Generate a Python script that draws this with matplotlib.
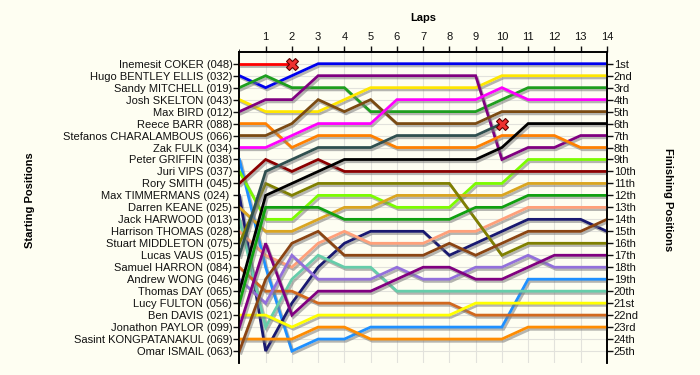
import matplotlib

matplotlib.use("Agg")

import matplotlib.pyplot as plt
import matplotlib.patheffects as pe

laps = list(range(0, 15))

drivers = [
    "Inemesit COKER (048)", "Hugo BENTLEY ELLIS (032)", "Sandy MITCHELL (019)",
    "Josh SKELTON (043)", "Max BIRD (012)", "Reece BARR (088)",
    "Stefanos CHARALAMBOUS (066)", "Zak FULK (034)", "Peter GRIFFIN (038)",
    "Juri VIPS (037)", "Rory SMITH (045)", "Max TIMMERMANS (024) ",
    "Darren KEANE (025)", "Jack HARWOOD (013)", "Harrison THOMAS (028)",
    "Stuart MIDDLETON (075)", "Lucas VAUS (015)", "Samuel HARRON (084)",
    "Andrew WONG (046)", "Thomas DAY (065)", "Lucy FULTON (056)",
    "Ben DAVIS (021)", "Jonathon PAYLOR (099)", "Sasint KONGPATANAKUL (069)",
    "Omar ISMAIL (063)",
]

finish_labels = [
    "1st", "2nd", "3rd", "4th", "5th", "6th", "7th", "8th", "9th", "10th",
    "11th", "12th", "13th", "14th", "15th", "16th", "17th", "18th", "19th",
    "20th", "21st", "22nd", "23rd", "24th", "25th",
]

# position at each lap, lap 0 = grid slot
coker = [1, 1, 1]
bentley_ellis = [2, 3, 2, 1, 1, 1, 1, 1, 1, 1, 1, 1, 1, 1, 1]
mitchell = [3, 2, 3, 3, 3, 5, 5, 5, 5, 5, 4, 3, 3, 3, 3]
skelton = [4, 5, 5, 5, 4, 3, 3, 3, 3, 3, 2, 2, 2, 2, 2]
bird = [5, 4, 4, 2, 2, 2, 2, 2, 2, 2, 9, 8, 8, 7, 7]
barr = [6, 6, 8, 7, 7, 7, 8, 8, 8, 8, 7, 7, 7, 8, 8]
charalambous = [7, 7, 6, 4, 5, 4, 6, 6, 6, 6, 5, 5, 5, 5, 5]
fulk = [8, 8, 7, 6, 6, 6, 4, 4, 4, 4, 3, 4, 4, 4, 4]
griffin = [9, 18, 25, 24, 24, 23, 23, 23, 23, 23, 23, 19, 19, 19, 19]
vips = [10, 14, 14, 12, 12, 12, 13, 13, 13, 11, 11, 9, 9, 9, 9]
smith = [11, 9, 10, 9, 10, 10, 10, 10, 10, 10, 10, 10, 10, 10, 10]
timmermans = [12, 25, 21, 18, 16, 15, 15, 15, 17, 16, 15, 14, 14, 14, 15]
keane = [13, 15, 15, 14, 13, 13, 12, 12, 12, 12, 12, 11, 11, 11, 11]
harwood = [14, 23, 19, 17, 18, 18, 20, 20, 20, 20, 20, 20, 20, 20, 20]
thomas = [15, 17, 18, 16, 15, 16, 16, 16, 15, 15, 14, 13, 13, 13, 13]
middleton = [16, 11, 12, 11, 11, 11, 11, 11, 11, 14, 17, 16, 16, 16, 16]
vaus = [17, 10, 9, 8, 8, 8, 7, 7, 7, 7, 6]
harron = [18, 20, 20, 21, 21, 21, 21, 21, 21, 22, 22, 22, 22, 22, 22]
wong = [19, 21, 17, 19, 19, 19, 18, 19, 19, 18, 18, 17, 18, 18, 18]
day = [20, 12, 11, 10, 9, 9, 9, 9, 9, 9, 8, 6, 6, 6, 6]
fulton = [21, 13, 13, 13, 14, 14, 14, 14, 14, 13, 13, 12, 12, 12, 12]
davis = [22, 22, 23, 22, 22, 22, 22, 22, 22, 21, 21, 21, 21, 21, 21]
paylor = [23, 16, 22, 20, 20, 20, 19, 18, 18, 19, 19, 18, 17, 17, 17]
kongpatanakul = [24, 24, 24, 23, 23, 24, 24, 24, 24, 24, 24, 23, 23, 23, 23]
ismail = [25, 19, 16, 15, 17, 17, 17, 17, 16, 17, 16, 15, 15, 15, 14]

positions = [
    coker, bentley_ellis, mitchell, skelton, bird, barr, charalambous, fulk,
    griffin, vips, smith, timmermans, keane, harwood, thomas, middleton, vaus,
    harron, wong, day, fulton, davis, paylor, kongpatanakul, ismail,
]

retired = ["Inemesit COKER (048)", "Lucas VAUS (015)"]

colors = [
    "#ff0000", "#0000ee", "#1e9e1e", "#ffe600", "#800080", "#ff8000",
    "#7a4a12", "#ff00ff", "#1e90ff", "#7cfc00", "#8b0000", "#191970",
    "#daa520", "#66cdaa", "#ffa07a", "#808000", "#2f4f4f", "#d2691e",
    "#9370db", "#000000", "#10a010", "#ffff00", "#800080", "#ff8c00",
    "#8b4513",
]

bg = "#fefef2"
plt.rcParams["font.family"] = ["Liberation Sans", "DejaVu Sans"]

fig = plt.figure(figsize=(7.0, 3.75), dpi=100, facecolor=bg)
ax = fig.add_axes([0.342, 0.032, 0.525, 0.830], facecolor=bg)

shadow = [pe.SimpleLineShadow(offset=(1.2, -1.6), shadow_color="#7a7a7a", alpha=0.55), pe.Normal()]

for name, pos, col in zip(drivers, positions, colors):
    ax.plot(laps[:len(pos)], pos, color=col, lw=2.0, solid_joinstyle="miter",
            path_effects=shadow, zorder=3)
    if name in retired:
        ax.plot(len(pos) - 1, pos[-1], marker="X", ms=8, color="#f03030",
                mec="#600000", mew=0.8, zorder=5)

ax.set_xlim(0, 14)
ax.set_ylim(26, 0)

ax.xaxis.tick_top()
ax.set_xticks(laps[1:])
ax.set_xticklabels([str(l) for l in laps[1:]])
ax.set_xticks(laps, minor=True)

ax.set_yticks(range(1, 26))
ax.set_yticklabels(drivers)

ax2 = ax.twinx()
ax2.set_ylim(26, 0)
ax2.set_yticks(range(1, 26))
ax2.set_yticklabels(finish_labels)

for a in (ax, ax2):
    a.tick_params(axis="both", labelsize=8, length=4, width=1, pad=1, colors="#111111")
    a.spines["bottom"].set_visible(False)
    a.spines["left"].set_linewidth(1.2)
    a.spines["right"].set_linewidth(1.2)
    a.spines["top"].set_linewidth(1.2)
ax.tick_params(axis="x", pad=3)

fig.text(0.604, 0.952, "Laps", ha="center", va="center", fontsize=8, fontweight="bold")
fig.text(0.043, 0.467, "Starting Positions", ha="center", va="center",
         rotation=90, fontsize=8, fontweight="bold")
fig.text(0.954, 0.467, "Finishing Positions", ha="center", va="center",
         rotation=270, fontsize=8, fontweight="bold")

ax.grid(True, which="both", color="#e2e2dc", lw=0.8)
ax.set_axisbelow(True)

fig.savefig("out.png", dpi=100, facecolor=bg)
